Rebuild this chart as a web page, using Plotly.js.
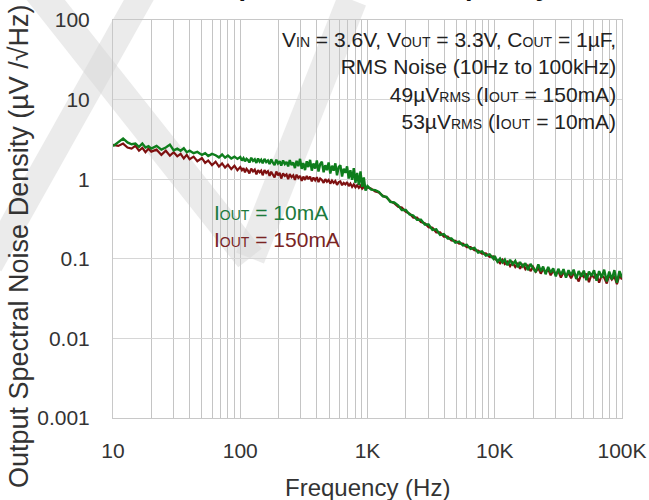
<!DOCTYPE html>
<html>
<head>
<meta charset="utf-8">
<script src="https://cdn.plot.ly/plotly-3.0.1.min.js"></script>
<style>html,body{margin:0;padding:0;background:#fff;}#chart{width:649px;height:500px;}</style>
</head>
<body>
<div id="chart"></div>
<script>
// Frequency points (Hz)
const freqHz = [
 10,11,12,13,14,15,16,17,18,19,
 20,22,24,26,28,30,32,34,36,38,
 40,43,46,50,53,56,60,64,68,72,
 76,80,85,90,95,
 100,103,106,109,112,115,118,122,126,130,134,138,142,146,
 150,155,160,165,170,175,
 180,186,192,198,204,210,217,224,231,238,
 245,253,261,269,277,286,295,304,313,
 323,333,343,354,365,376,388,
 400,412,425,438,452,466,480,
 495,510,526,542,559,576,594,
 612,631,650,670,691,712,
 734,757,780,804,829,
 855,881,908,936,965,
 1000,1070,1150,1230,1320,1410,1510,1620,1740,1860,
 2000,2140,2290,2450,2630,2820,3020,3240,3470,3720,
 3980,4270,4570,4900,5250,5620,6030,6460,6920,7410,
 7940,8510,9120,9770,
 10000,10500,11000,11500,12000,
 12600,13200,13800,14500,15200,
 15800,16600,17400,18200,19100,
 20000,21000,22000,23000,24000,
 25100,26300,27500,28800,30200,
 31600,33100,34700,36300,38000,
 39800,41700,43700,45700,47900,
 50100,52500,55000,57500,60300,
 63100,66100,69200,72400,75900,
 79400,83200,87100,91200,95500,
 100000];

// IOUT = 10mA (green), µV/√Hz
const noise10mA = [
 2.6,2.95,3.25,2.9,2.75,2.8,2.55,2.8,2.5,2.6,
 2.42,2.62,2.35,2.5,2.72,2.3,2.42,2.28,2.45,2.18,
 2.28,2.12,2.2,2.02,2.12,1.96,2.08,2.0,1.88,2.04,
 1.86,1.98,1.82,1.92,1.8,
 1.9,1.72,1.84,1.68,1.8,1.74,1.62,1.86,1.7,1.78,1.6,1.82,1.66,1.75,
 1.58,1.8,1.64,1.72,1.55,1.78,
 1.62,1.5,1.76,1.58,1.68,1.48,1.72,1.55,1.65,1.45,
 1.74,1.5,1.62,1.38,1.7,1.46,1.8,1.35,1.6,
 1.3,1.68,1.42,1.75,1.28,1.58,1.36,
 1.72,1.25,1.55,1.66,1.22,1.5,1.3,
 1.62,1.18,1.48,1.28,1.58,1.12,1.42,
 1.5,1.08,1.35,1.2,1.45,1.02,
 1.3,0.98,1.38,0.9,1.2,
 0.85,1.25,0.8,1.05,0.72,
 0.82,0.74,0.73,0.69,0.61,0.6,0.52,0.51,0.47,0.41,
 0.41,0.36,0.35,0.31,0.31,0.27,0.27,0.23,0.235,0.2,
 0.205,0.18,0.18,0.16,0.165,0.147,0.15,0.133,0.137,0.12,
 0.124,0.11,0.114,0.1,
 0.108,0.092,0.101,0.09,0.098,
 0.083,0.097,0.085,0.094,0.078,
 0.091,0.08,0.088,0.072,0.086,
 0.078,0.068,0.085,0.07,0.08,
 0.064,0.079,0.067,0.076,0.06,
 0.075,0.063,0.074,0.058,0.072,
 0.062,0.073,0.056,0.07,0.06,
 0.071,0.054,0.069,0.061,0.072,
 0.053,0.07,0.058,0.073,0.052,
 0.069,0.055,0.072,0.05,0.07,
 0.058];

// IOUT = 150mA (dark red), µV/√Hz
const noise150mA = [
 2.7,2.62,2.8,2.5,2.42,2.62,2.28,2.48,2.18,2.42,
 2.22,2.35,2.02,2.28,1.98,2.18,1.94,2.08,1.82,2.02,
 1.78,1.92,1.68,1.84,1.6,1.72,1.5,1.66,1.44,1.58,
 1.4,1.52,1.34,1.48,1.3,
 1.42,1.3,1.38,1.22,1.35,1.28,1.18,1.36,1.25,1.32,1.15,1.3,1.22,1.28,
 1.12,1.3,1.2,1.26,1.1,1.24,
 1.16,1.05,1.25,1.12,1.2,1.02,1.18,1.1,1.15,1.0,
 1.16,1.06,1.12,0.98,1.14,1.04,1.1,0.95,1.08,
 0.98,1.1,1.0,1.08,0.94,1.05,0.97,
 1.06,0.92,1.02,0.98,0.9,1.0,0.93,
 0.98,0.88,0.96,0.9,0.95,0.85,0.92,
 0.94,0.84,0.9,0.86,0.92,0.82,
 0.88,0.8,0.86,0.79,0.84,
 0.78,0.83,0.76,0.8,0.77,
 0.79,0.76,0.7,0.68,0.62,0.59,0.53,0.5,0.45,0.44,
 0.39,0.37,0.33,0.33,0.29,0.28,0.25,0.245,0.215,0.215,
 0.19,0.19,0.17,0.168,0.155,0.155,0.14,0.14,0.128,0.127,
 0.116,0.117,0.106,0.107,
 0.1,0.095,0.088,0.097,0.086,
 0.092,0.081,0.09,0.079,0.087,
 0.075,0.086,0.074,0.082,0.07,
 0.079,0.069,0.077,0.065,0.075,
 0.068,0.074,0.062,0.071,0.064,
 0.07,0.058,0.068,0.061,0.066,
 0.057,0.066,0.06,0.052,0.064,
 0.059,0.065,0.051,0.063,0.058,
 0.064,0.05,0.062,0.058,0.049,
 0.063,0.055,0.06,0.048,0.062,
 0.055];

// Axis ticks
const xGridVals = [10,20,30,40,50,60,70,80,90,100,200,300,400,500,600,700,800,900,
 1000,2000,3000,4000,5000,6000,7000,8000,9000,10000,20000,30000,40000,50000,60000,70000,80000,90000,100000];
const xLabelMap = {10:'10',100:'100',1000:'1K',10000:'10K',100000:'100K'};
const xTickText = xGridVals.map(v => xLabelMap[v] || '');
const yTickVals = [0.001,0.01,0.1,1,10,100];
const yTickText = ['0.001','0.01','0.1','1','10','100'];

const FONT = 'Liberation Sans, Arial, sans-serif';
const sub = s => '<span style="font-size:14px">' + s + '</span>';

const traces = [
  {x: freqHz, y: noise150mA, type: 'scatter', mode: 'lines', name: 'IOUT = 150mA',
   line: {color: '#7e1010', width: 2.2}},
  {x: freqHz, y: noise10mA, type: 'scatter', mode: 'lines', name: 'IOUT = 10mA',
   line: {color: '#0e7d1c', width: 2.4}}
];

// plot area pixel helpers for watermark shapes (paper coords)
const px = v => (v - 113) / 509;
const py = v => (418 - v) / 398;
const wm = 'rgba(215,215,215,0.5)';
const band = (x0,y0,x1,y1,w) => ({type:'line', xref:'paper', yref:'paper', layer:'below',
  x0: px(x0), y0: py(y0), x1: px(x1), y1: py(y1), line:{color: wm, width: w}});

const layout = {
  width: 649, height: 500,
  margin: {l: 113, r: 27, t: 20, b: 82},
  paper_bgcolor: '#ffffff', plot_bgcolor: 'rgba(0,0,0,0)',
  showlegend: false,
  font: {family: FONT, color: '#333333'},
  xaxis: {
    type: 'log', range: [1, 5],
    tickmode: 'array', tickvals: xGridVals, ticktext: xTickText,
    showgrid: true, gridcolor: '#c4c4c4', gridwidth: 1,
    showline: true, linecolor: '#c8c8c8', mirror: true,
    ticks: '', ticklabelstandoff: 14,
    tickfont: {size: 21, color: '#333333'},
    zeroline: false
  },
  yaxis: {
    type: 'log', range: [-3, 2],
    tickmode: 'array', tickvals: yTickVals, ticktext: yTickText,
    showgrid: true, gridcolor: '#d6d6d6', gridwidth: 1,
    showline: true, linecolor: '#c8c8c8', mirror: true,
    ticks: '', ticklabelstandoff: 18,
    tickfont: {size: 21, color: '#333333'},
    zeroline: false
  },
  shapes: [
    band(30,-20,250,258,30),
    band(250,258,352,0,30),
    band(-10,265,150,-20,26)
  ],
  annotations: [
    {xref:'paper', yref:'paper', x: px(371), y: 1.0426, xanchor:'center', yanchor:'bottom',
     text:'<b>Output Noise vs. Frequency</b>', showarrow:false,
     font:{size:27, color:'#111111', family: FONT}},
    {xref:'paper', yref:'paper', x: px(618), y: py(26), xanchor:'right', yanchor:'top', align:'right',
     showarrow:false, font:{size:21, color:'#222222', family: FONT},
     text: 'V' + sub('IN') + ' = 3.6V, V' + sub('OUT') + ' = 3.3V, C' + sub('OUT') + ' = 1µF,<br>' +
           'RMS Noise (10Hz to 100kHz)<br>' +
           '49µV' + sub('RMS') + ' (I' + sub('OUT') + ' = 150mA)<br>' +
           '53µV' + sub('RMS') + ' (I' + sub('OUT') + ' = 10mA)'},
    {xref:'paper', yref:'paper', x: px(212), y: py(212), xanchor:'left', yanchor:'middle',
     showarrow:false, font:{size:21, color:'#1c7a3c', family: FONT},
     text: 'I' + sub('OUT') + ' = 10mA'},
    {xref:'paper', yref:'paper', x: px(212), y: py(240), xanchor:'left', yanchor:'middle',
     showarrow:false, font:{size:21, color:'#7a2424', family: FONT},
     text: 'I' + sub('OUT') + ' = 150mA'},
    {xref:'paper', yref:'paper', x: px(367), y: py(487), xanchor:'center', yanchor:'middle',
     showarrow:false, font:{size:24, color:'#333333', family: FONT},
     text: 'Frequency (Hz)'},
    {xref:'paper', yref:'paper', x: px(19), y: py(246), xanchor:'center', yanchor:'middle',
     textangle: -90, showarrow:false, font:{size:27, color:'#333333', family: FONT},
     text: 'Output Spectral Noise Density (µV /√Hz)'}
  ]
};

Plotly.newPlot('chart', traces, layout, {displayModeBar: false, staticPlot: true});
</script>
</body>
</html>
